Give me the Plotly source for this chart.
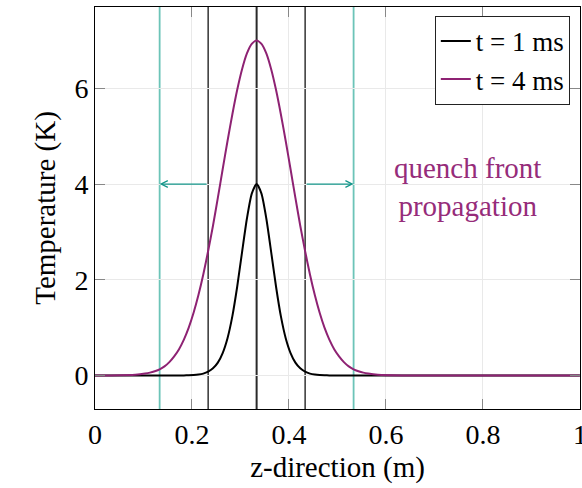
import plotly.graph_objects as go

# Sample positions along the conductor (m)
z = [0.0, 0.0333, 0.0833, 0.1033, 0.1133, 0.1233, 0.1333, 0.1433, 0.1533, 0.1633,
     0.1733, 0.1833, 0.1933, 0.2033, 0.2133, 0.2233, 0.2333, 0.2433, 0.2533, 0.2633,
     0.2733, 0.2833, 0.2933, 0.3033, 0.3133, 0.3233,
     0.3333,
     0.3433, 0.3533, 0.3633, 0.3733, 0.3833, 0.3933, 0.4033, 0.4133, 0.4233, 0.4333,
     0.4433, 0.4533, 0.4633, 0.4733, 0.4833, 0.4933, 0.5033, 0.5133, 0.5233, 0.5333,
     0.5433, 0.5533, 0.5633, 0.5833, 0.6333, 0.75, 1.0]

# Temperature rise at t = 1 ms (K)
temp_1ms = [0, 0, 0, 0, 0, 0, 0, 0, 0, 0, 0, 0.002, 0.005, 0.01, 0.02, 0.04, 0.08,
            0.15, 0.27, 0.47, 0.78, 1.24, 1.86, 2.58, 3.28, 3.80,
            4.00,
            3.80, 3.28, 2.58, 1.86, 1.24, 0.78, 0.47, 0.27, 0.15, 0.08, 0.04, 0.02,
            0.01, 0.005, 0.002, 0, 0, 0, 0, 0, 0, 0, 0, 0, 0, 0, 0]

# Temperature rise at t = 4 ms (K)
temp_4ms = [0, 0.001, 0.015, 0.04, 0.06, 0.09, 0.13, 0.19, 0.28, 0.40, 0.55, 0.75,
            1.00, 1.31, 1.68, 2.11, 2.60, 3.13, 3.71, 4.31, 4.90, 5.46, 5.97, 6.40,
            6.73, 6.93,
            7.00,
            6.93, 6.73, 6.40, 5.97, 5.46, 4.90, 4.31, 3.71, 3.13, 2.60, 2.11, 1.68,
            1.31, 1.00, 0.75, 0.55, 0.40, 0.28, 0.19, 0.13, 0.09, 0.06, 0.04, 0.015,
            0.001, 0, 0]

series_names = ["t = 1 ms", "t = 4 ms"]

# Marker lines: hot-spot centre, normal-zone edges at 1 ms, front positions at 4 ms
centre_z = [0.3333]
zone_edges_z = [0.2333, 0.4333]
front_z = [0.1333, 0.5333]
arrow_level = 4

x_ticks = [0, 0.2, 0.4, 0.6, 0.8, 1]
x_tick_text = ["0", "0.2", "0.4", "0.6", "0.8", "1"]
y_ticks = [0, 2, 4, 6]
y_tick_text = ["0", "2", "4", "6"]

BLACK = "#000000"
PURPLE = "#8e2273"
TEAL_LINE = "#6cc4b8"
TEAL_ARROW = "#14968a"
SERIF = "Liberation Serif"

tick_font = dict(family=SERIF, size=28, color=BLACK)
title_font = dict(family=SERIF, size=29, color=BLACK)

fig = go.Figure()
fig.add_trace(go.Scatter(x=z, y=temp_1ms, mode="lines", name=series_names[0],
                         line=dict(color=BLACK, width=2, shape="spline", smoothing=0.6)))
fig.add_trace(go.Scatter(x=z, y=temp_4ms, mode="lines", name=series_names[1],
                         line=dict(color=PURPLE, width=2, shape="spline", smoothing=0.6)))

for zc in centre_z:
    fig.add_vline(x=zc, line=dict(color="#2a2a2a", width=2), layer="below")
for ze in zone_edges_z:
    fig.add_vline(x=ze, line=dict(color=BLACK, width=1.2), layer="below")
for zf in front_z:
    fig.add_vline(x=zf, line=dict(color=TEAL_LINE, width=1.8), layer="below")

# propagation arrows from the 1 ms zone edges out to the 4 ms front
for start, end in zip(zone_edges_z, front_z):
    fig.add_annotation(x=end, y=arrow_level, ax=start, ay=arrow_level,
                       xref="x", yref="y", axref="x", ayref="y", text="",
                       showarrow=True, arrowhead=5, arrowsize=1.1,
                       arrowwidth=1.2, arrowcolor=TEAL_ARROW, standoff=0)
fig.add_annotation(x=0.769, y=3.94, xref="x", yref="y",
                   text="quench front<br>propagation", showarrow=False,
                   font=dict(family=SERIF, size=29, color="#962c7a"),
                   align="center")

fig.update_layout(
    width=582, height=488,
    margin=dict(l=95, r=2, t=7, b=79),
    paper_bgcolor="white", plot_bgcolor="white",
    font=dict(family=SERIF, size=28, color=BLACK),
    showlegend=True,
    legend=dict(x=0.979, y=0.978, xanchor="right", yanchor="top",
                bgcolor="white", bordercolor="#222", borderwidth=1,
                font=dict(family=SERIF, size=27, color=BLACK), tracegroupgap=0),
)
fig.update_xaxes(range=[0, 1.0002], tickvals=x_ticks, ticktext=x_tick_text,
                 tickfont=tick_font, ticklabeloverflow="allow",
                 ticks="inside", ticklen=10, tickcolor="#888", tickwidth=1,
                 showline=True, linecolor=BLACK, linewidth=1, mirror="ticks",
                 showgrid=True, gridcolor="#e9e9e9", gridwidth=1, zeroline=False,
                 title=dict(text="z-direction (m)", standoff=8, font=title_font),
                 automargin=False)
fig.update_yaxes(range=[-0.7, 7.7], tickvals=y_ticks, ticktext=y_tick_text,
                 tickfont=tick_font,
                 ticks="inside", ticklen=10, tickcolor="#888", tickwidth=1,
                 showline=True, linecolor=BLACK, linewidth=1, mirror="ticks",
                 showgrid=True, gridcolor="#e9e9e9", gridwidth=1, zeroline=False,
                 title=dict(text="Temperature (K)", standoff=10, font=title_font),
                 automargin=False)

fig.write_html("out.html")
